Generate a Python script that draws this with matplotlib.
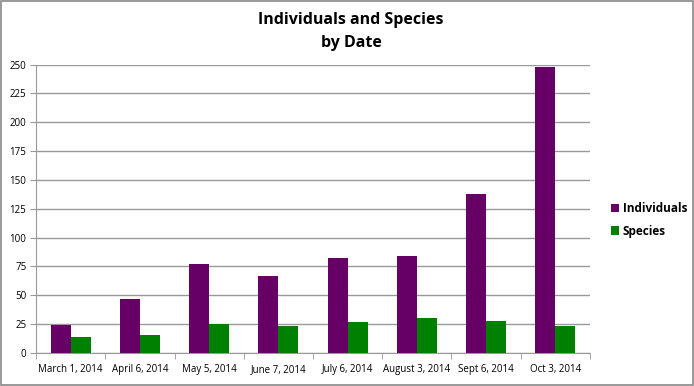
import numpy as np
import matplotlib.pyplot as plt
from matplotlib.patches import Rectangle

dates = ["March 1, 2014", "April 6, 2014", "May 5, 2014", "June 7, 2014",
         "July 6, 2014", "August 3, 2014", "Sept 6, 2014", "Oct 3, 2014"]
individuals = [24, 47, 77, 67, 82, 84, 138, 248]
species = [14, 16, 25, 23, 27, 30, 28, 23]

plt.rcParams['font.family'] = ['Open Sans', 'DejaVu Sans']

fig = plt.figure(figsize=(6.94, 3.86), dpi=100)
fig.patches.append(Rectangle((0.002, 0.003), 0.996, 0.994, transform=fig.transFigure,
                             fill=False, edgecolor='#888888', linewidth=1.2))
ax = fig.add_axes([0.052, 0.0855, 0.798, 0.747])

x = np.arange(len(dates))
w = 0.29
ax.bar(x - w / 2, individuals, w, color='#660066', label='Individuals', zorder=3)
ax.bar(x + w / 2, species, w, color='#008000', label='Species', zorder=3)

ax.set_xlim(-0.5, len(dates) - 0.5)
ax.set_ylim(0, 250)
ax.set_yticks(range(0, 251, 25))
ax.yaxis.grid(True, color='#999999', linewidth=1, zorder=0)
ax.set_xticks(x)
ax.set_xticklabels(dates, fontsize=7)
ax.tick_params(axis='x', length=0, pad=8)
ax.set_xticks(np.arange(-0.5, len(dates), 1), minor=True)
ax.tick_params(axis='x', which='minor', length=4, color='#999999')
ax.tick_params(axis='y', labelsize=7, length=4, color='#999999', pad=3)
for s in ['top', 'right']:
    ax.spines[s].set_visible(False)
for s in ['left', 'bottom']:
    ax.spines[s].set_color('#999999')

fig.text(0.506, 0.918, "Individuals and Species\nby Date", ha='center', va='center',
         fontsize=11.5, fontweight='bold', linespacing=1.55)

fig.legend(loc='center left', bbox_to_anchor=(0.865, 0.43), frameon=False,
           handlelength=0.7, handleheight=0.7, handletextpad=0.3,
           prop={'size': 8.5, 'weight': 'bold'}, labelspacing=0.8)

fig.savefig("out.png", dpi=100)
